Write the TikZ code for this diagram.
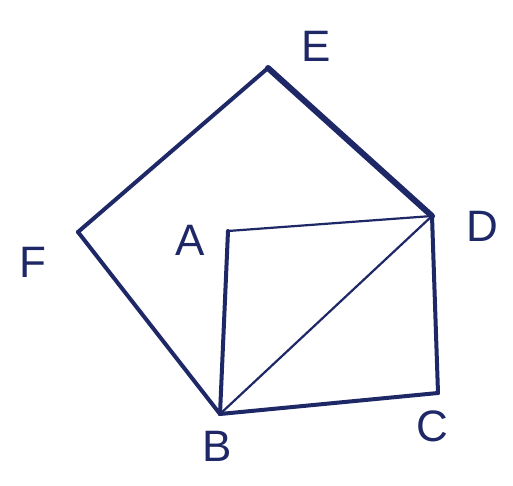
\documentclass[tikz,border=0pt]{standalone}
\usepackage{fontspec}
\setmainfont{Liberation Sans}
\definecolor{ink}{HTML}{1E2866}
\begin{document}
\begin{tikzpicture}[x=1pt,y=-1pt,
  lbl/.style={text=ink,font=\fontsize{44}{46}\selectfont,inner sep=0pt},
  edge/.style={draw=ink,line width=4pt,line cap=round,line join=round},
  thinedge/.style={draw=ink,line width=2.2pt,line cap=round},
  thickedge/.style={draw=ink,line width=6pt,line cap=round}]
\useasboundingbox[fill=white] (0,0) rectangle (513,486);
\coordinate (E) at (268,68);
\coordinate (D) at (432,216);
\coordinate (A) at (228,231);
\coordinate (F) at (78,232);
\coordinate (B) at (220,414);
\coordinate (C) at (438,393);
\node[lbl] (lE) at (316,46) {E};
\node[lbl] (lD) at (482,226) {D};
\node[lbl] (lA) at (190,240) {A};
\node[lbl] (lF) at (33,262) {F};
\node[lbl] (lB) at (217,446) {B};
\node[lbl] (lC) at (432,426) {C};
\draw[thickedge] (E) -- (D);
\draw[edge] (E) -- (F);
\draw[edge] (F) -- (B);
\draw[edge] (A) -- (B);
\draw[thinedge] (A) -- (D);
\draw[thinedge] (B) -- (D);
\draw[edge] (D) -- (C);
\draw[edge] (B) -- (C);
\end{tikzpicture}
\end{document}
